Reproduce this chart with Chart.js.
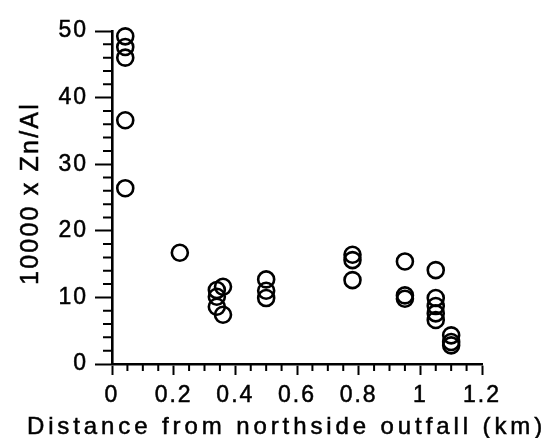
<!DOCTYPE html>
<html><head><meta charset="utf-8">
<script src="https://cdn.jsdelivr.net/npm/chart.js@4"></script>
<style>html,body{margin:0;padding:0;background:#fff}#wrap{width:545px;height:438px;position:relative}</style>
</head><body><div id="wrap"><canvas id="c"></canvas></div>
<script>
// ---- data ----
const distanceKm = [0.043,0.043,0.043,0.043,0.043, 0.22, 0.34,0.34,0.34,0.36,0.36, 0.50,0.50,0.50, 0.78,0.78,0.78, 0.95,0.95,0.95, 1.05,1.05,1.05,1.05,1.05, 1.10,1.10,1.10];
const znAlRatio  = [49.2,47.6,46.0,36.6,26.4, 16.7, 11.1,10.1,8.6,11.6,7.4, 12.7,11.0,9.9, 16.4,15.6,12.6, 15.4,10.3,9.8, 14.1,9.9,8.7,7.6,6.6, 4.3,3.3,2.8];
const xTickValues = [0,0.2,0.4,0.6,0.8,1,1.2];
const xTickLabels = ['0','0.2','0.4','0.6','0.8','1','1.2'];
const yTickValues = [0,10,20,30,40,50];
const yTickLabels = ['0','10','20','30','40','50'];
const xMinorStep = 0.05;
const yMinorStep = 2;
const yAxisTitle = '10000 x Zn/Al';
const xAxisTitle = 'Distance from northside outfall (km)';

const FONT = '"Liberation Sans", Arial, Helvetica, sans-serif';
Chart.defaults.font.family = FONT;
Chart.defaults.color = '#000';

const points = distanceKm.map((d, i) => ({ x: d, y: znAlRatio[i] }));

const spacingPlugin = {
  id: 'spacing',
  beforeDraw(chart) { chart.ctx.letterSpacing = '2px'; }
};

const extras = {
  id: 'extras',
  afterDraw(chart) {
    const { ctx, scales: { x, y } } = chart;
    ctx.save();
    ctx.strokeStyle = '#000';
    ctx.lineWidth = 2;
    ctx.beginPath();
    const nx = Math.round((x.max - x.min) / xMinorStep);
    for (let i = 1; i < nx; i++) {
      if (i % 4 === 0) continue;
      const px = x.getPixelForValue(x.min + i * xMinorStep);
      ctx.moveTo(px, y.bottom);
      ctx.lineTo(px, y.bottom + 7);
    }
    const ny = Math.round((y.max - y.min) / yMinorStep);
    for (let i = 1; i < ny; i++) {
      if (i % 5 === 0) continue;
      const py = y.getPixelForValue(y.min + i * yMinorStep);
      ctx.moveTo(x.left - 9, py);
      ctx.lineTo(x.left, py);
    }
    ctx.stroke();
    ctx.fillStyle = '#000';
    ctx.lineWidth = 0.5;
    // x axis title
    ctx.font = '24px ' + FONT;
    ctx.letterSpacing = '3.9px';
    ctx.textAlign = 'center';
    ctx.textBaseline = 'alphabetic';
    const tx = chart.width / 2 + 14, ty = 434;
    ctx.fillText(xAxisTitle, tx, ty);
    ctx.strokeText(xAxisTitle, tx, ty);
    // y axis title
    ctx.font = '25px ' + FONT;
    ctx.letterSpacing = '2.2px';
    ctx.translate(31, (y.top + y.bottom) / 2 - 4);
    ctx.rotate(-Math.PI / 2);
    ctx.textBaseline = 'middle';
    ctx.fillText(yAxisTitle, 0, 0);
    ctx.strokeText(yAxisTitle, 0, 0);
    ctx.restore();
  }
};

new Chart(document.getElementById('c'), {
  type: 'scatter',
  data: {
    datasets: [{
      data: points,
      pointStyle: 'circle',
      pointRadius: 8,
      pointHoverRadius: 8,
      borderWidth: 2.6,
      borderColor: '#000',
      backgroundColor: 'rgba(0,0,0,0)',
      clip: false
    }]
  },
  options: {
    animation: false,
    responsive: true,
    maintainAspectRatio: false,
    devicePixelRatio: 1,
    layout: { padding: { top: 31, right: 63, left: 0, bottom: 0 } },
    plugins: { legend: { display: false }, tooltip: { enabled: false } },
    scales: {
      x: {
        type: 'linear', min: 0, max: 1.2,
        afterBuildTicks: s => { s.ticks = xTickValues.map(v => ({ value: v })); },
        afterFit: s => { s.height = 74; },
        ticks: {
          callback: (v, i) => xTickLabels[i],
          font: { size: 23 }, padding: 7, maxRotation: 0, autoSkip: false, color: '#000',
          textStrokeColor: '#000', textStrokeWidth: 0.5
        },
        grid: { drawOnChartArea: false, drawTicks: true, tickLength: 11, tickWidth: 2, tickColor: '#000' },
        border: { display: true, width: 2.6, color: '#000' }
      },
      y: {
        type: 'linear', min: 0, max: 50,
        afterBuildTicks: s => { s.ticks = yTickValues.map(v => ({ value: v })); },
        afterFit: s => { s.width = 112; },
        ticks: {
          callback: (v, i) => yTickLabels[i],
          font: { size: 23 }, padding: 7, autoSkip: false, color: '#000',
          textStrokeColor: '#000', textStrokeWidth: 0.5
        },
        grid: { drawOnChartArea: false, drawTicks: true, tickLength: 17, tickWidth: 2, tickColor: '#000' },
        border: { display: true, width: 2.6, color: '#000' },
        title: { display: false }
      }
    }
  },
  plugins: [spacingPlugin, extras]
});
</script>
</body></html>
